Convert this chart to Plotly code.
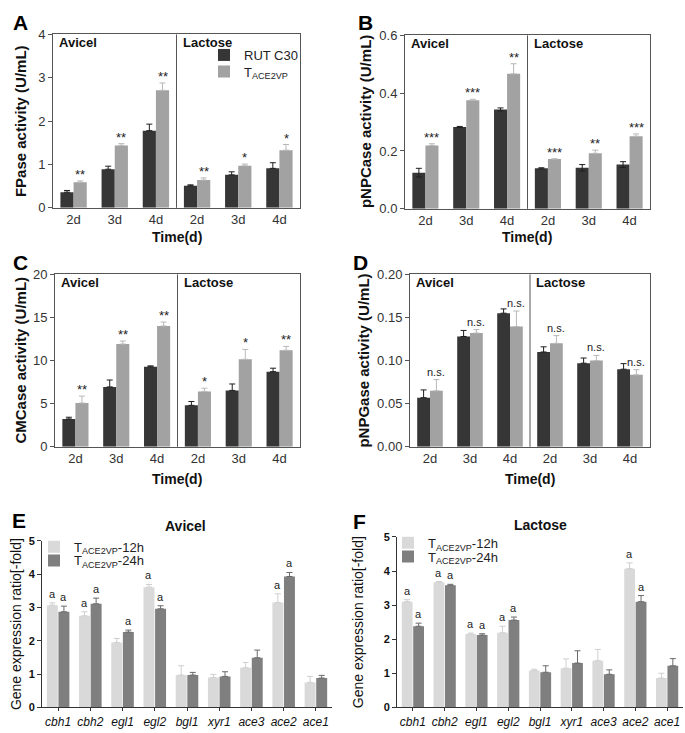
import plotly.graph_objects as go

W, H = 685, 733
FONT = "Liberation Sans, Arial, sans-serif"

# ---------------- data ----------------
time_labels = ["2d", "3d", "4d", "2d", "3d", "4d"]
substrates = ["Avicel", "Lactose"]
strain_names = ["RUT C30", "T<sub>ACE2VP</sub>"]

fpase_rut = [0.36, 0.89, 1.78, 0.51, 0.76, 0.91]
fpase_rut_err = [0.04, 0.07, 0.15, 0.02, 0.07, 0.13]
fpase_ace = [0.59, 1.44, 2.71, 0.64, 0.97, 1.33]
fpase_ace_err = [0.03, 0.04, 0.17, 0.05, 0.04, 0.13]
fpase_sig = ["**", "**", "**", "**", "*", "*"]

pnpc_rut = [0.125, 0.283, 0.344, 0.140, 0.142, 0.153]
pnpc_rut_err = [0.015, 0.002, 0.005, 0.002, 0.011, 0.010]
pnpc_ace = [0.219, 0.376, 0.467, 0.172, 0.192, 0.251]
pnpc_ace_err = [0.006, 0.003, 0.035, 0.001, 0.011, 0.008]
pnpc_sig = ["***", "***", "**", "***", "**", "***"]

cmc_rut = [3.23, 6.95, 9.29, 4.81, 6.54, 8.72]
cmc_rut_err = [0.2, 0.8, 0.1, 0.45, 0.75, 0.4]
cmc_ace = [5.08, 11.92, 14.02, 6.43, 10.15, 11.20]
cmc_ace_err = [0.8, 0.35, 0.45, 0.37, 1.15, 0.45]
cmc_sig = ["**", "**", "**", "*", "*", "**"]

pnpg_rut = [0.057, 0.128, 0.155, 0.110, 0.097, 0.090]
pnpg_rut_err = [0.009, 0.007, 0.005, 0.006, 0.006, 0.0065]
pnpg_ace = [0.065, 0.132, 0.1395, 0.120, 0.100, 0.0835]
pnpg_ace_err = [0.013, 0.004, 0.018, 0.009, 0.006, 0.006]
pnpg_sig = ["n.s.", "n.s.", "n.s.", "n.s.", "n.s.", "n.s."]

genes = ["cbh1", "cbh2", "egl1", "egl2", "bgl1", "xyr1", "ace3", "ace2", "ace1"]
gene_series = ["T<sub>ACE2VP</sub>-12h", "T<sub>ACE2VP</sub>-24h"]

avicel_12h = [3.07, 2.75, 1.95, 3.61, 0.97, 0.90, 1.19, 3.15, 0.75]
avicel_12h_err = [0.07, 0.12, 0.12, 0.08, 0.28, 0.09, 0.16, 0.26, 0.18]
avicel_24h = [2.87, 3.11, 2.26, 2.96, 0.97, 0.93, 1.49, 3.93, 0.88]
avicel_24h_err = [0.17, 0.17, 0.06, 0.09, 0.08, 0.14, 0.23, 0.12, 0.08]
avicel_12h_sig = ["a", "a", "", "a", "", "", "", "a", ""]
avicel_24h_sig = ["a", "a", "a", "a", "", "", "", "a", ""]

lactose_12h = [3.10, 3.67, 2.15, 2.19, 1.08, 1.15, 1.37, 4.07, 0.86]
lactose_12h_err = [0.06, 0.02, 0.03, 0.19, 0.04, 0.27, 0.33, 0.17, 0.14]
lactose_24h = [2.38, 3.58, 2.12, 2.56, 1.03, 1.30, 0.97, 3.10, 1.22]
lactose_24h_err = [0.09, 0.03, 0.04, 0.09, 0.19, 0.36, 0.13, 0.18, 0.21]
lactose_12h_sig = ["a", "a", "a", "a", "", "", "", "a", ""]
lactose_24h_sig = ["a", "a", "a", "a", "", "", "", "a", ""]

# ---------------- styles ----------------
DARK, LIGHT = "#363636", "#a2a2a2"
DARK_ERR, LIGHT_ERR = "#1e1e1e", "#b8b8b8"
G_LIGHT, G_DARK = "#d9d9d9", "#7f7f7f"
G_LIGHT_ERR, G_DARK_ERR = "#cfcfcf", "#6a6a6a"


def px_x(p):
    return p / W


def px_y(p):
    return 1 - p / H


def paper_text(x, y, text, size, color="#111", angle=0):
    return dict(x=px_x(x), y=px_y(y), xref="paper", yref="paper", text=text,
                textangle=angle, showarrow=False, xanchor="center", yanchor="middle",
                font=dict(family=FONT, size=size, color=color))


fig = go.Figure()
annotations = []
shapes = []

panels = [
    dict(letter="A", box=(53, 300, 28, 205), yr=[0, 4], dtick=1, fmt="d",
         ylabel="FPase activity (U/mL)", ylx=20, lx=20, ly=16, tx=177, ty=235,
         rut=fpase_rut, rute=fpase_rut_err, ace=fpase_ace, acee=fpase_ace_err,
         sig=fpase_sig, sym=False, legends=("legend", "legend2")),
    dict(letter="B", box=(405, 650, 29, 206), yr=[0, 0.6], dtick=0.2, fmt=".1f",
         ylabel="pNPCase activity (U/mL)", ylx=365, lx=365, ly=16, tx=527, ty=235,
         rut=pnpc_rut, rute=pnpc_rut_err, ace=pnpc_ace, acee=pnpc_ace_err,
         sig=pnpc_sig, sym=True, legends=None),
    dict(letter="C", box=(55, 300, 273, 449), yr=[0, 20], dtick=5, fmt="d",
         ylabel="CMCase activity (U/mL)", ylx=21, lx=20, ly=261, tx=177, ty=482,
         rut=cmc_rut, rute=cmc_rut_err, ace=cmc_ace, acee=cmc_ace_err,
         sig=cmc_sig, sym=False, legends=None),
    dict(letter="D", box=(410, 650, 273, 449), yr=[0, 0.20], dtick=0.05, fmt=".2f",
         ylabel="pNPGase activity (U/mL)", ylx=364, lx=360, ly=261, tx=530, ty=482,
         rut=pnpg_rut, rute=pnpg_rut_err, ace=pnpg_ace, acee=pnpg_ace_err,
         sig=pnpg_sig, sym=False, legends=None),
]

BW = 0.32
xpos = list(range(len(time_labels)))

for k, p in enumerate(panels):
    n = k + 1
    xa = "x" if n == 1 else f"x{n}"
    ya = "y" if n == 1 else f"y{n}"
    x0, x1, yt, yb = p["box"]
    fig.update_layout(**{
        ("xaxis" if n == 1 else f"xaxis{n}"): dict(
            domain=[px_x(x0), px_x(x1)], anchor=ya, range=[-0.5, len(time_labels) - 0.5],
            tickvals=xpos, ticktext=time_labels, showline=True, linecolor="#555",
            linewidth=1, mirror=True, ticks="", showgrid=False, zeroline=False,
            tickfont=dict(family=FONT, size=13, color="#333")),
        ("yaxis" if n == 1 else f"yaxis{n}"): dict(
            domain=[px_y(yb), px_y(yt)], anchor=xa, range=p["yr"], dtick=p["dtick"],
            tick0=0, tickformat=p["fmt"], showline=True, linecolor="#555", linewidth=1,
            mirror=True, ticks="outside", ticklen=4, tickcolor="#555", showgrid=False,
            zeroline=False, tickfont=dict(family=FONT, size=13, color="#333")),
    })
    show = p["legends"] is not None
    fig.add_trace(go.Bar(
        x=xpos, y=p["rut"], width=BW, offset=-BW, name=strain_names[0],
        marker=dict(color=DARK, line=dict(width=0)), xaxis=xa, yaxis=ya,
        showlegend=show, legend=p["legends"][0] if show else "legend",
        error_y=dict(type="data", array=p["rute"], symmetric=p["sym"],
                     arrayminus=None if p["sym"] else [0] * len(p["rute"]),
                     color=DARK_ERR, thickness=1, width=3)))
    fig.add_trace(go.Bar(
        x=xpos, y=p["ace"], width=BW, offset=0, name=strain_names[1],
        marker=dict(color=LIGHT, line=dict(width=0)), xaxis=xa, yaxis=ya,
        showlegend=show, legend=p["legends"][1] if show else "legend",
        error_y=dict(type="data", array=p["acee"], symmetric=False,
                     arrayminus=[0] * len(p["acee"]),
                     color=LIGHT_ERR, thickness=1, width=3)))
    for i, s in enumerate(p["sig"]):
        annotations.append(dict(
            x=i + BW / 2, y=p["ace"][i] + p["acee"][i], xref=xa, yref=ya,
            text=s, showarrow=False, xanchor="center", yanchor="bottom",
            yshift=0 if s == "n.s." else -3,
            font=dict(family=FONT, size=11 if s == "n.s." else 13, color="#222")))
    half = len(time_labels) / 2 - 0.5
    shapes.append(dict(type="line", xref=xa, yref=f"{ya} domain", x0=half, x1=half,
                       y0=0, y1=1, line=dict(color="#555", width=1)))
    for j, sname in enumerate(substrates):
        annotations.append(dict(
            x=-0.5 + j * len(time_labels) / 2, y=p["yr"][1], xref=xa, yref=ya,
            text=f"<b>{sname}</b>", showarrow=False, xanchor="left", yanchor="top",
            xshift=4, yshift=1, font=dict(family=FONT, size=13, color="#111")))
    annotations.append(paper_text(p["ylx"], (yt + yb) / 2, f"<b>{p['ylabel']}</b>", 15,
                                  angle=-90))
    annotations.append(paper_text(p["tx"], p["ty"], "<b>Time(d)</b>", 14))
    annotations.append(paper_text(p["lx"], p["ly"], f"<b>{p['letter']}</b>", 21, "#000"))

gene_panels = [
    dict(letter="E", box=(42, 332, 545, 715), title="Avicel", tx=185, ty=530,
         v12=avicel_12h, e12=avicel_12h_err, v24=avicel_24h, e24=avicel_24h_err,
         s12=avicel_12h_sig, s24=avicel_24h_sig, lx=19, ly=524, ylx=16,
         legends=("legend3", "legend4")),
    dict(letter="F", box=(397, 683, 541, 715), title="Lactose", tx=540, ty=529,
         v12=lactose_12h, e12=lactose_12h_err, v24=lactose_24h, e24=lactose_24h_err,
         s12=lactose_12h_sig, s24=lactose_24h_sig, lx=359, ly=525, ylx=358,
         legends=("legend5", "legend6")),
]

GBW = 0.34
gpos = list(range(len(genes)))
for k, p in enumerate(gene_panels):
    n = k + 5
    xa, ya = f"x{n}", f"y{n}"
    x0, x1, yt, yb = p["box"]
    fig.update_layout(**{
        f"xaxis{n}": dict(
            domain=[px_x(x0), px_x(x1)], anchor=ya, range=[-0.5, len(genes) - 0.5],
            tickvals=gpos, ticktext=[f"<i>{g}</i>" for g in genes], showline=True,
            linecolor="#333", linewidth=1, ticks="outside", ticklen=3, tickcolor="#333",
            showgrid=False, zeroline=False,
            tickfont=dict(family=FONT, size=12, color="#111")),
        f"yaxis{n}": dict(
            domain=[px_y(yb), px_y(yt)], anchor=xa, range=[0, 5], dtick=1,
            showline=True, linecolor="#333", linewidth=1, ticks="outside", ticklen=4,
            tickcolor="#333", showgrid=False, zeroline=False, tickprefix="<b>",
            ticksuffix="</b>", tickfont=dict(family=FONT, size=11, color="#111")),
    })
    fig.add_trace(go.Bar(
        x=gpos, y=p["v12"], width=GBW, offset=-GBW - 0.01, name=gene_series[0],
        marker=dict(color=G_LIGHT, line=dict(width=0)), xaxis=xa, yaxis=ya,
        legend=p["legends"][0],
        error_y=dict(type="data", array=p["e12"], symmetric=False,
                     arrayminus=[0] * len(genes), color=G_LIGHT_ERR, thickness=1, width=3)))
    fig.add_trace(go.Bar(
        x=gpos, y=p["v24"], width=GBW, offset=0.01, name=gene_series[1],
        marker=dict(color=G_DARK, line=dict(width=0)), xaxis=xa, yaxis=ya,
        legend=p["legends"][1],
        error_y=dict(type="data", array=p["e24"], symmetric=False,
                     arrayminus=[0] * len(genes), color=G_DARK_ERR, thickness=1, width=3)))
    for i in gpos:
        for vals, errs, sigs, off in ((p["v12"], p["e12"], p["s12"], -GBW / 2 - 0.01),
                                      (p["v24"], p["e24"], p["s24"], GBW / 2 + 0.01)):
            if sigs[i]:
                annotations.append(dict(
                    x=i + off, y=vals[i] + errs[i], xref=xa, yref=ya, text=sigs[i],
                    showarrow=False, xanchor="center", yanchor="bottom", yshift=1,
                    font=dict(family=FONT, size=11, color="#222")))
    annotations.append(paper_text(p["tx"], p["ty"], f"<b>{p['title']}</b>", 14))
    annotations.append(paper_text(p["lx"], p["ly"], f"<b>{p['letter']}</b>", 21, "#000"))
    annotations.append(paper_text(p["ylx"], (yt + yb) / 2, "Gene expression ratio[-fold]",
                                  14, angle=-90))

legend_common = dict(bgcolor="rgba(0,0,0,0)", borderwidth=0, xanchor="left",
                     yanchor="middle", tracegroupgap=0, itemclick=False,
                     font=dict(family=FONT, size=13, color="#222"))
fig.update_layout(
    width=W, height=H, margin=dict(l=0, r=0, t=0, b=0),
    paper_bgcolor="white", plot_bgcolor="white", barmode="overlay",
    font=dict(family=FONT, color="#111"),
    legend=dict(x=px_x(204), y=px_y(49), **legend_common),
    legend2=dict(x=px_x(204), y=px_y(66), **legend_common),
    legend3=dict(x=px_x(34), y=px_y(551), **legend_common),
    legend4=dict(x=px_x(34), y=px_y(565), **legend_common),
    legend5=dict(x=px_x(388), y=px_y(547), **legend_common),
    legend6=dict(x=px_x(388), y=px_y(561), **legend_common),
    annotations=annotations, shapes=shapes,
)

fig.write_html("out.html", config={"displayModeBar": False},
               post_script="document.body.style.margin='0';document.body.style.overflow='hidden';")
